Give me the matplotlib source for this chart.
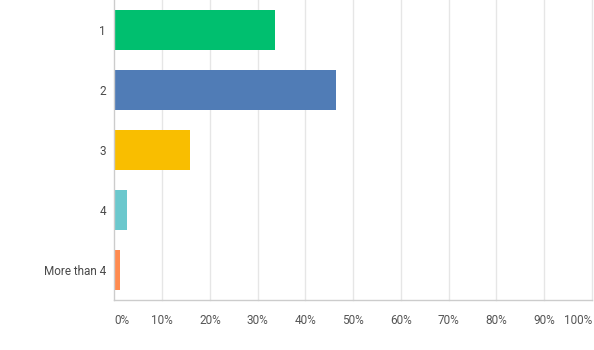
import matplotlib
matplotlib.use("Agg")
import matplotlib.pyplot as plt

categories = ["1", "2", "3", "4", "More than 4"]
values = [33.6, 46.4, 15.8, 2.7, 1.2]
colors = ["#00BF6F", "#507CB6", "#F9BE00", "#6BC8CD", "#FF8B4F"]
xticks = [0, 10, 20, 30, 40, 50, 60, 70, 80, 90, 100]
xticklabels = [f"{t}%" for t in xticks]

W, H = 594, 350
fig = plt.figure(figsize=(W / 100, H / 100), dpi=100)
left, right, bottom, top = 114.3, 592.0, 300.0, 0.0
ax = fig.add_axes([left / W, (H - bottom) / H, (right - left) / W, (bottom - top) / H])

ypos = list(range(len(categories)))
ax.barh(ypos, values, height=2 / 3, color=colors, zorder=3)
ax.set_xlim(0, 100)
ax.set_ylim(len(categories) - 0.5, -0.5)

for t in xticks[1:]:
    ax.axvline(t, color="#e6e6e6", lw=1, zorder=1, clip_on=False)

for s in ["top", "right"]:
    ax.spines[s].set_visible(False)
for s in ["left", "bottom"]:
    ax.spines[s].set_color("#cccccc")
    ax.spines[s].set_linewidth(1)
    ax.spines[s].set_zorder(4)

ax.set_yticks(ypos)
ax.set_yticklabels(categories, fontsize=8.5, color="#4a4a4a", family="Roboto")
ax.tick_params(axis="y", length=0, pad=6)

ax.set_xticks(xticks)
ax.set_xticklabels(xticklabels, fontsize=8.5, color="#555555", family="Roboto")
ax.tick_params(axis="x", length=0, pad=10)
labs = ax.get_xticklabels()
labs[0].set_ha("left")
labs[-1].set_ha("right")

fig.savefig("out.png", dpi=100)
